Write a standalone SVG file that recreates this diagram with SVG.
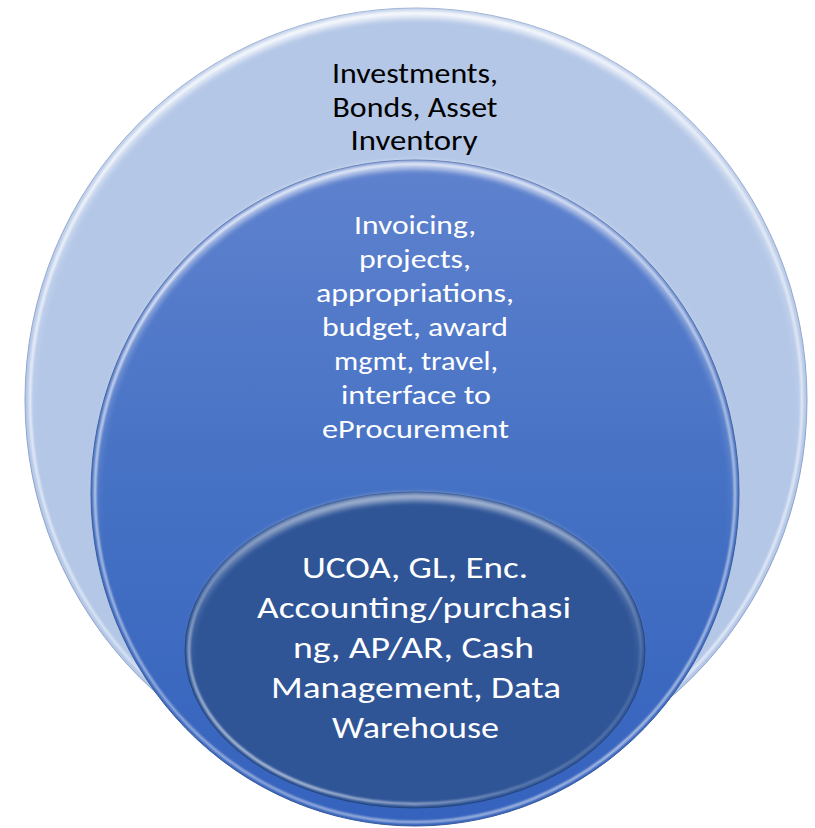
<svg xmlns="http://www.w3.org/2000/svg" width="815" height="828" viewBox="0 0 815 828">
  <style>
    .lbl { font-family: Carlito, Lato, "Liberation Sans", sans-serif; text-anchor: middle; }
    .dark { fill: #000000; font-size: 28.5px; }
    .mid { fill: #ffffff; font-size: 27.5px; }
    .core { fill: #ffffff; font-size: 31.5px; }
  </style>
  <defs>
    <linearGradient id="midFill" x1="0" y1="0" x2="0" y2="1">
      <stop offset="0" stop-color="#5f82ce"/>
      <stop offset="0.5" stop-color="#4571c4"/>
      <stop offset="1" stop-color="#3562bd"/>
    </linearGradient>
    <linearGradient id="hlRing" x1="0" y1="0" x2="1" y2="1">
      <stop offset="0" stop-color="#ffffff" stop-opacity="0.95"/>
      <stop offset="0.5" stop-color="#ffffff" stop-opacity="0.55"/>
      <stop offset="1" stop-color="#ffffff" stop-opacity="0.8"/>
    </linearGradient>
    <linearGradient id="topBand" x1="0" y1="0" x2="0" y2="1">
      <stop offset="0" stop-color="#ffffff" stop-opacity="1"/>
      <stop offset="0.35" stop-color="#ffffff" stop-opacity="0.25"/>
      <stop offset="0.6" stop-color="#ffffff" stop-opacity="0"/>
      <stop offset="1" stop-color="#ffffff" stop-opacity="0"/>
    </linearGradient>
    <linearGradient id="hlInner" x1="0" y1="1" x2="1" y2="0">
      <stop offset="0" stop-color="#ffffff" stop-opacity="1"/>
      <stop offset="0.4" stop-color="#ffffff" stop-opacity="0.25"/>
      <stop offset="0.75" stop-color="#ffffff" stop-opacity="0.15"/>
      <stop offset="1" stop-color="#ffffff" stop-opacity="0.45"/>
    </linearGradient>
    <filter id="soft" x="-5%" y="-5%" width="110%" height="110%">
      <feGaussianBlur stdDeviation="1.3"/>
    </filter>
    <filter id="softer" x="-5%" y="-5%" width="110%" height="110%">
      <feGaussianBlur stdDeviation="2.5"/>
    </filter>
  </defs>

  <g id="outer-ring">
    <ellipse cx="416" cy="400" rx="391" ry="392" fill="#b4c7e7" stroke="#8ea4cc" stroke-width="1"/>
    <ellipse cx="416" cy="400" rx="385" ry="386" fill="none" stroke="url(#topBand)" stroke-width="9" filter="url(#softer)" opacity="0.7"/>
    <ellipse cx="416" cy="400" rx="386" ry="387" fill="none" stroke="url(#hlRing)" stroke-width="2.5" filter="url(#soft)"/>
    <text class="lbl dark" x="415" y="83" textLength="166" lengthAdjust="spacingAndGlyphs">Investments,</text>
    <text class="lbl dark" x="415" y="116.5" textLength="165" lengthAdjust="spacingAndGlyphs">Bonds, Asset</text>
    <text class="lbl dark" x="414" y="150" textLength="127" lengthAdjust="spacingAndGlyphs">Inventory</text>
  </g>

  <g id="middle-ring">
    <ellipse cx="415" cy="493" rx="324" ry="333" fill="url(#midFill)" stroke="#3a5c9c" stroke-width="1"/>
    <ellipse cx="415" cy="493" rx="319" ry="328" fill="none" stroke="url(#topBand)" stroke-width="9" filter="url(#softer)" opacity="0.6"/>
    <ellipse cx="415" cy="493" rx="320" ry="329" fill="none" stroke="url(#hlRing)" stroke-width="2.2" filter="url(#soft)"/>
    <text class="lbl mid" x="415" y="234" textLength="122" lengthAdjust="spacingAndGlyphs">Invoicing,</text>
    <text class="lbl mid" x="415" y="268" textLength="112" lengthAdjust="spacingAndGlyphs">projects,</text>
    <text class="lbl mid" x="415" y="302" textLength="198" lengthAdjust="spacingAndGlyphs">appropriations,</text>
    <text class="lbl mid" x="415" y="336" textLength="186" lengthAdjust="spacingAndGlyphs">budget, award</text>
    <text class="lbl mid" x="416" y="370" textLength="164" lengthAdjust="spacingAndGlyphs">mgmt, travel,</text>
    <text class="lbl mid" x="416" y="404" textLength="150" lengthAdjust="spacingAndGlyphs">interface to</text>
    <text class="lbl mid" x="415.5" y="438" textLength="187" lengthAdjust="spacingAndGlyphs">eProcurement</text>
  </g>

  <g id="inner-core">
    <ellipse cx="415" cy="650" rx="230" ry="158" fill="#2f5597" stroke="#24447c" stroke-width="1"/>
    <ellipse cx="415" cy="650" rx="225" ry="153" fill="none" stroke="url(#topBand)" stroke-width="8" filter="url(#softer)" opacity="0.5"/>
    <ellipse cx="415" cy="650" rx="226" ry="154" fill="none" stroke="url(#hlInner)" stroke-width="2.4" filter="url(#soft)"/>
    <text class="lbl core" x="415" y="578" textLength="226" lengthAdjust="spacingAndGlyphs">UCOA, GL, Enc.</text>
    <text class="lbl core" x="414" y="618" textLength="314" lengthAdjust="spacingAndGlyphs">Accounting/purchasi</text>
    <text class="lbl core" x="413.5" y="658" textLength="241" lengthAdjust="spacingAndGlyphs">ng, AP/AR, Cash</text>
    <text class="lbl core" x="416" y="698" textLength="290" lengthAdjust="spacingAndGlyphs">Management, Data</text>
    <text class="lbl core" x="415.5" y="738" textLength="167" lengthAdjust="spacingAndGlyphs">Warehouse</text>
  </g>
</svg>
